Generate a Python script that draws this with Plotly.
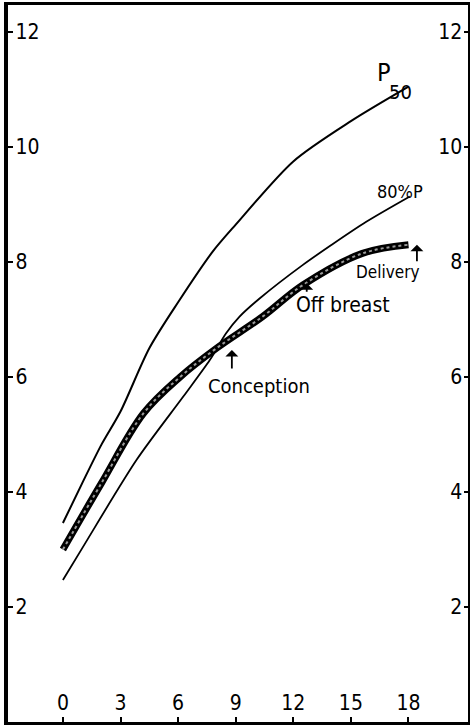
import plotly.graph_objects as go

# age in months (x) and weight in kg (y)
p50_x = [0, 1, 2, 3, 4.5, 6, 7.8, 9, 12, 15, 18]
p50_y = [3.46, 4.15, 4.82, 5.4, 6.5, 7.3, 8.18, 8.65, 9.75, 10.45, 11.05]

p80_x = [0, 1, 3.84, 6.27, 7.66, 8.5, 9.2, 10.26, 12.5, 14, 15.8, 18.07]
p80_y = [2.47, 3.02, 4.56, 5.66, 6.3, 6.76, 7.05, 7.37, 7.95, 8.3, 8.7, 9.14]

child_x = [0, 2, 4.2, 6.1, 8, 10.4, 12.5, 15.6, 18]
child_y = [3.0, 4.15, 5.37, 6.0, 6.5, 7.05, 7.6, 8.15, 8.3]

x_ticks = [0, 3, 6, 9, 12, 15, 18]
y_ticks = [2, 4, 6, 8, 10, 12]

FONT = "DejaVu Sans Condensed, DejaVu Sans"

fig = go.Figure()

fig.add_trace(go.Scatter(x=p50_x, y=p50_y, mode="lines", line=dict(color="black", width=2, shape="spline", smoothing=0.8), hoverinfo="skip"))
fig.add_trace(go.Scatter(x=p80_x, y=p80_y, mode="lines", line=dict(color="black", width=1.8, shape="spline", smoothing=0.8), hoverinfo="skip"))
# thick line: dark outline with a grey stippled centre
fig.add_trace(go.Scatter(x=child_x, y=child_y, mode="lines", line=dict(color="black", width=7, shape="spline"), hoverinfo="skip"))
fig.add_trace(go.Scatter(x=child_x, y=child_y, mode="lines", line=dict(color="#9a9a9a", width=2, shape="spline", dash="dot"), hoverinfo="skip"))
# invisible trace so the right-hand axis gets drawn
fig.add_trace(go.Scatter(x=[0], y=[0], yaxis="y2", mode="markers", marker=dict(opacity=0), hoverinfo="skip"))

def note(text, x, y, size, **kw):
    fig.add_annotation(x=x, y=y, text=text, showarrow=False, font=dict(family=FONT, size=size, color="black"), **kw)

note("P", 16.7, 11.3, 25)
note("50", 17.6, 10.95, 20)
note("80%P", 17.55, 9.23, 18)
note("Delivery", 16.9, 7.83, 17)
note("Off breast", 14.6, 7.25, 21)
note("Conception", 10.2, 5.84, 20)

def arrow(x, y, length):
    fig.add_annotation(x=x, y=y, text="", showarrow=True, ax=0, ay=length,
                       arrowhead=1, arrowsize=1.2, arrowwidth=1.8, arrowcolor="black")

arrow(18.44, 8.3, 18)
arrow(8.8, 6.47, 20)
arrow(12.7, 7.63, 10)

tick_font = dict(family=FONT, size=21, color="black")

fig.update_layout(
    width=471,
    height=727,
    margin=dict(l=8, r=3, t=5, b=5),
    plot_bgcolor="white",
    paper_bgcolor="white",
    showlegend=False,
    font=dict(family=FONT, size=21, color="black"),
    xaxis=dict(
        range=[-2.86, 21.1], tickvals=x_ticks, ticks="inside", ticklen=5, tickwidth=1.5,
        tickcolor="black", ticklabelposition="inside", ticklabelstandoff=4, tickfont=tick_font,
        showgrid=False, zeroline=False, showline=True, linecolor="black", linewidth=3, mirror=True,
    ),
    yaxis=dict(
        range=[0, 12.47], tickvals=y_ticks, ticks="inside", ticklen=5, tickwidth=1.5,
        tickcolor="black", ticklabelposition="inside", ticklabelstandoff=4, tickfont=tick_font,
        showgrid=False, zeroline=False, showline=True, linecolor="black", linewidth=3.5,
    ),
    yaxis2=dict(
        range=[0, 12.47], tickvals=y_ticks, overlaying="y", side="right", ticks="inside",
        ticklen=4, tickwidth=1.5, tickcolor="black", ticklabelposition="inside", ticklabelstandoff=3,
        tickfont=tick_font,
        showgrid=False, zeroline=False, showline=True, linecolor="black", linewidth=2,
    ),
)

fig.write_html("out.html", config={"displayModeBar": False},
               post_script="document.body.style.margin='0';document.body.style.overflow='hidden';")
